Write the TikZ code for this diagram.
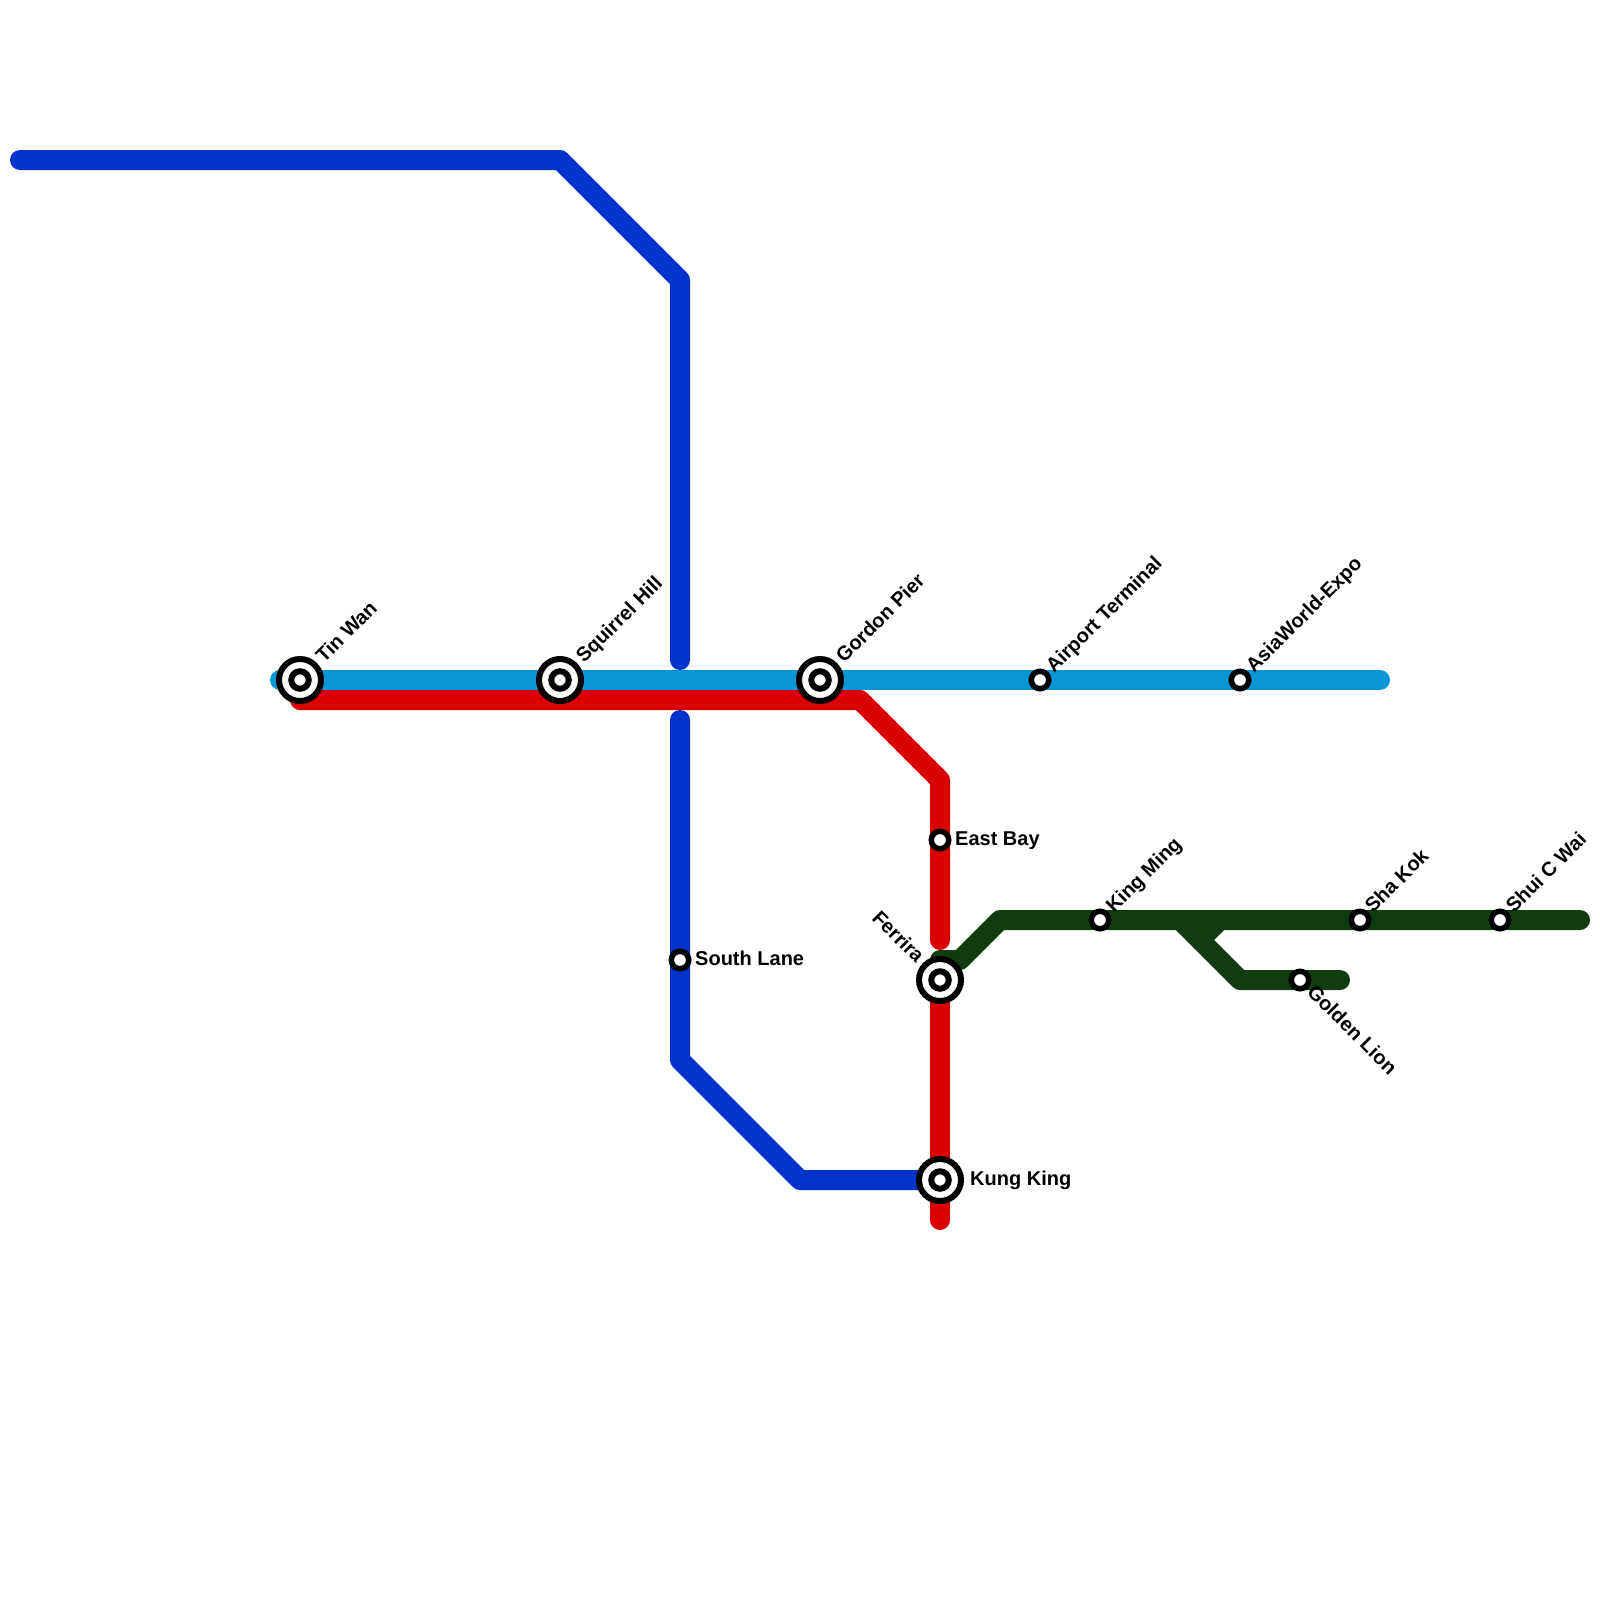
\documentclass[tikz,border=0pt]{standalone}
\usepackage{fontspec}
\usetikzlibrary{calc}
\setmainfont{Liberation Sans}
\definecolor{lineblue}{HTML}{0896D7}
\definecolor{linered}{HTML}{DB0000}
\definecolor{linenavy}{HTML}{0033CC}
\definecolor{linegreen}{HTML}{103D10}
\tikzset{
  metro/.style={line width=20pt,line cap=round,line join=round},
  small/.style={circle,draw=black,fill=white,line width=5.5pt,minimum size=17.5pt,inner sep=0pt},
  bigcore/.style={circle,draw=black,fill=white,line width=6pt,minimum size=17.5pt,inner sep=0pt},
  bigring/.style={circle,draw=black,fill=white,line width=6pt,minimum size=42pt,inner sep=0pt},
  lbl/.style={inner sep=0pt,anchor=base west,font=\fontsize{20}{24}\selectfont\bfseries},
}
\begin{document}
\begin{tikzpicture}[x=1pt,y=-1pt]
\useasboundingbox (0,0) rectangle (1600,1600);
\fill[white] (0,0) rectangle (1600,1600);
% vertices
\coordinate (n1) at (20,160);
\coordinate (n2) at (560,160);
\coordinate (n3) at (680,280);
\coordinate (n4) at (680,660);
\coordinate (n5) at (680,720);
\coordinate (n6) at (680,1060);
\coordinate (n7) at (800,1180);
\coordinate (n8) at (940,1180);
\coordinate (b1) at (280,680);
\coordinate (b2) at (1380,680);
\coordinate (r1) at (300,700);
\coordinate (r2) at (860,700);
\coordinate (r3) at (940,780);
\coordinate (r4) at (940,940);
\coordinate (r5) at (940,980);
\coordinate (r6) at (940,1220);
\coordinate (g1) at (940,980);
\coordinate (g2) at (940,960);
\coordinate (g3) at (960,960);
\coordinate (g4) at (1000,920);
\coordinate (g5) at (1580,920);
\coordinate (g6) at (1180,920);
\coordinate (g7) at (1240,980);
\coordinate (g8) at (1340,980);
\coordinate (g9) at (1200,940);
\coordinate (g10) at (1220,920);
% lines
\draw[metro,linegreen] (g1) -- (g2) -- (g3) -- (g4) -- (g5);
\draw[metro,linegreen] (g6) -- (g7) -- (g8);
\draw[metro,linegreen] (g9) -- (g10);
\draw[metro,linenavy] (n1) -- (n2) -- (n3) -- (n4);
\draw[metro,linenavy] (n5) -- (n6) -- (n7) -- (n8);
\draw[metro,linered] (r1) -- (r2) -- (r3) -- (r4);
\draw[metro,linered] (r5) -- (r6);
\draw[metro,lineblue] (b1) -- (b2);
% interchange stations
\foreach \nm/\px/\py in {tinwan/300/680,squirrel/560/680,gordon/820/680,ferrira/940/980,kungking/940/1180}{
  \node[bigring] (\nm o) at (\px,\py) {};
  \node[bigcore] (\nm) at (\px,\py) {};
}
% simple stations
\foreach \nm/\px/\py in {airport/1040/680,asia/1240/680,eastbay/940/840,kingming/1100/920,shakok/1360/920,shui/1500/920,golden/1300/980,southlane/680/960}{
  \node[small] (\nm) at (\px,\py) {};
}
% labels
\node[lbl,rotate=45] (l1) at ($(tinwan)+(24,-16)$) {Tin Wan};
\node[lbl,rotate=45] (l2) at ($(squirrel)+(24,-16)$) {Squirrel Hill};
\node[lbl,rotate=45] (l3) at ($(gordon)+(24,-16)$) {Gordon Pier};
\node[lbl,rotate=45] (l4) at ($(airport)+(14,-6)$) {Airport Terminal};
\node[lbl,rotate=45] (l5) at ($(asia)+(14,-6)$) {AsiaWorld-Expo};
\node[lbl,rotate=45] (l6) at ($(kingming)+(14,-6)$) {King Ming};
\node[lbl,rotate=45] (l7) at ($(shakok)+(13,-6)$) {Sha Kok};
\node[lbl,rotate=45] (l8) at ($(shui)+(14,-6)$) {Shui C Wai};
\node[lbl,rotate=-45] (l9) at ($(golden)+(6,13)$) {Golden Lion};
\node[lbl,rotate=-45,anchor=base east] (l10) at ($(ferrira)+(-24,-16)$) {Ferrira};
\node[lbl] (l11) at ($(eastbay)+(15,5)$) {East Bay};
\node[lbl] (l12) at ($(southlane)+(15,5)$) {South Lane};
\node[lbl] (l13) at ($(kungking)+(30,5)$) {Kung King};
\end{tikzpicture}
\end{document}
